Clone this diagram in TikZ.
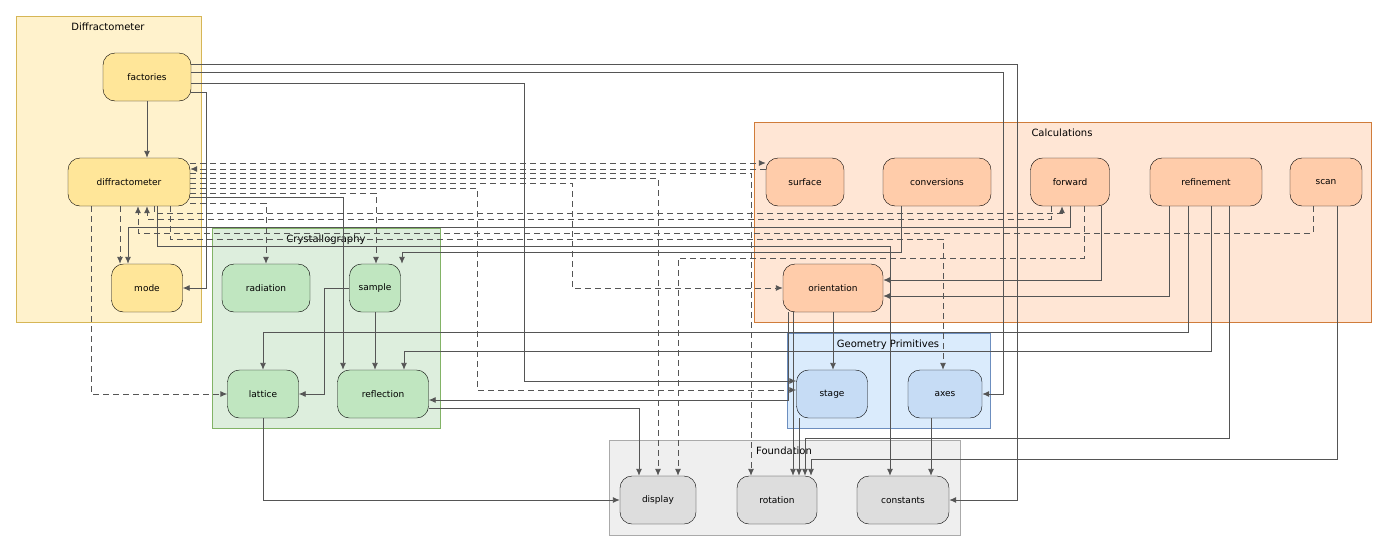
\documentclass[tikz,border=0pt]{standalone}
\usepackage{fontspec}
\setmainfont{DejaVu Sans}
\usetikzlibrary{arrows.meta}
\definecolor{ln}{HTML}{555555}
\definecolor{c1f}{HTML}{FFF2CC}\definecolor{c1b}{HTML}{D6B656}\definecolor{n1}{HTML}{FFE699}
\definecolor{c2f}{HTML}{DDEEDD}\definecolor{c2b}{HTML}{82B366}\definecolor{n2}{HTML}{C0E6C0}
\definecolor{c3f}{HTML}{FFE6D5}\definecolor{c3b}{HTML}{D07C3A}\definecolor{n3}{HTML}{FFCCAA}
\definecolor{c4f}{HTML}{DAEBFC}\definecolor{c4b}{HTML}{6C8EBF}\definecolor{n4}{HTML}{C6DCF5}
\definecolor{c5f}{HTML}{EFEFEF}\definecolor{c5b}{HTML}{AAAAAA}\definecolor{n5}{HTML}{DDDDDD}
\tikzset{
 nd/.style={draw=black,rounded corners=12pt,minimum height=48pt,inner sep=0pt,font=\fontsize{9}{10}\selectfont},
 ttl/.style={font=\fontsize{10}{11}\selectfont,anchor=north},
 ed/.style={draw=ln,line width=0.9pt,-{Latex[length=7pt,width=6pt]}},
 dd/.style={ed,dash pattern=on 6pt off 4pt},
 ye/.style={nd,fill=n1}, gr/.style={nd,fill=n2}, or/.style={nd,fill=n3},
 bl/.style={nd,fill=n4}, gy/.style={nd,fill=n5}
}
\begin{document}
\begin{tikzpicture}[x=1pt,y=-1pt]
\useasboundingbox (0,0) rectangle (1388,552);
% clusters
\filldraw[fill=c1f,draw=c1b,line width=0.8pt] (16,16) rectangle (201,322);
\node[ttl] (t1) at (108,19) {Diffractometer};
\filldraw[fill=c3f,draw=c3b,line width=0.8pt] (754,122) rectangle (1371,322);
\node[ttl] (t3) at (1062,125) {Calculations};
\filldraw[fill=c2f,draw=c2b,line width=0.8pt] (212,228) rectangle (440,428);
\node[ttl] (t2) at (326,231) {Crystallography};
\filldraw[fill=c4f,draw=c4b,line width=0.8pt] (787,333) rectangle (990,428);
\node[ttl] (t4) at (888,336) {Geometry Primitives};
\filldraw[fill=c5f,draw=c5b,line width=0.8pt] (609,440) rectangle (960,535);
\node[ttl] (t5) at (784,443) {Foundation};
% nodes
\node[ye,minimum width=88pt] (fac) at (147,77) {factories};
\node[ye,minimum width=122pt] (dif) at (129,182) {diffractometer};
\node[ye,minimum width=71pt] (mode) at (147,288) {mode};
\node[gr,minimum width=88pt] (rad) at (266,288) {radiation};
\node[gr,minimum width=51pt] (samp) at (375,288) {sample};
\node[gr,minimum width=71pt] (latt) at (263,394) {lattice};
\node[gr,minimum width=91pt] (refl) at (383,394) {reflection};
\node[or,minimum width=78pt] (surf) at (805,182) {surface};
\node[or,minimum width=108pt] (conv) at (937,182) {conversions};
\node[or,minimum width=79pt] (forw) at (1070,182) {forward};
\node[or,minimum width=112pt] (ref) at (1206,182) {refinement};
\node[or,minimum width=72pt] (scan) at (1326,182) {scan};
\node[or,minimum width=100pt] (orient) at (833,288) {orientation};
\node[bl,minimum width=71pt] (stage) at (832,394) {stage};
\node[bl,minimum width=74pt] (axes) at (945,394) {axes};
\node[gy,minimum width=76pt] (disp) at (658,500) {display};
\node[gy,minimum width=80pt] (rot) at (777,500) {rotation};
\node[gy,minimum width=92pt] (con) at (903,500) {constants};
% edges
\draw[ed] (fac.south) -- (fac.south|-dif.north);
\draw[ed] (fac.east|-0,64) -| (1017,500) -- (con.east);
\draw[ed] (fac.east|-0,72) -| (1003,394) -- (axes.east);
\draw[ed] (fac.east|-0,83) -| (524,381) -- (stage.west|-0,381);
\draw[ed] (fac.east|-0,92) -| (206,288) -- (mode.east);
\draw[ed] (dif.east|-0,197) -| (refl.north-|343,0);
\draw[dd] (dif.east|-0,163) -- (surf.west|-0,163);
\draw[dd] (surf.west|-0,169) -- (dif.east|-0,169);
\draw[dd] (dif.east|-0,173) -| (rot.north-|751,0);
\draw[dd] (dif.east|-0,178) -| (disp.north-|658,0);
\draw[dd] (dif.east|-0,183) -| (572,288) -- (orient.west);
\draw[dd] (dif.east|-0,188) -| (477,390) -- (stage.west|-0,390);
\draw[dd] (dif.east|-0,193) -| (samp.north-|376,0);
\draw[dd] (dif.east|-0,203) -| (rad.north);
\draw[dd] (dif.south-|91,0) |- (latt.west);
\draw[dd] (dif.south-|120,0) -- (mode.north-|120,0);
\draw[dd] (dif.south-|154,0) |- (1062,213) -- (forw.south-|1062,0);
\draw[dd] (forw.south-|1051,0) |- (147,219) -- (dif.south-|147,0);
\draw[dd] (scan.south-|1313,0) |- (138,233) -- (dif.south-|138,0);
\draw[ed] (forw.south-|1070,0) |- (128,227) -- (mode.north-|128,0);
\draw[dd] (dif.south-|170,0) |- (943,239) -- (axes.north-|943,0);
\draw[ed] (dif.south-|157,0) |- (890,246) -- (con.north-|890,0);
\draw[ed] (conv.south-|901,0) |- (402,252) -- (samp.north-|402,0);
\draw[dd] (forw.south-|1084,0) |- (678,258) -- (disp.north-|678,0);
\draw[ed] (forw.south-|1101,0) |- (orient.east|-0,280);
\draw[ed] (ref.south-|1169,0) |- (orient.east|-0,296);
\draw[ed] (ref.south-|1188,0) |- (263,332) -- (latt.north);
\draw[ed] (ref.south-|1211,0) |- (404,351) -- (refl.north-|404,0);
\draw[ed] (ref.south-|1229,0) |- (805,438) -- (rot.north-|805,0);
\draw[ed] (scan.south-|1337,0) |- (811,459) -- (rot.north-|811,0);
\draw[ed] (orient.south-|788,0) |- (refl.east|-0,400);
\draw[ed] (orient.south-|793,0) -- (rot.north-|793,0);
\draw[ed] (orient.south-|833,0) -- (stage.north-|833,0);
\draw[ed] (stage.south-|799,0) -- (rot.north-|799,0);
\draw[ed] (axes.south-|931,0) -- (con.north-|931,0);
\draw[ed] (samp.west) -| (324,394) -- (latt.east);
\draw[ed] (samp.south) -- (refl.north-|375,0);
\draw[ed] (latt.south) |- (disp.west);
\draw[ed] (refl.east|-0,408) -| (disp.north-|639,0);
\end{tikzpicture}
\end{document}
